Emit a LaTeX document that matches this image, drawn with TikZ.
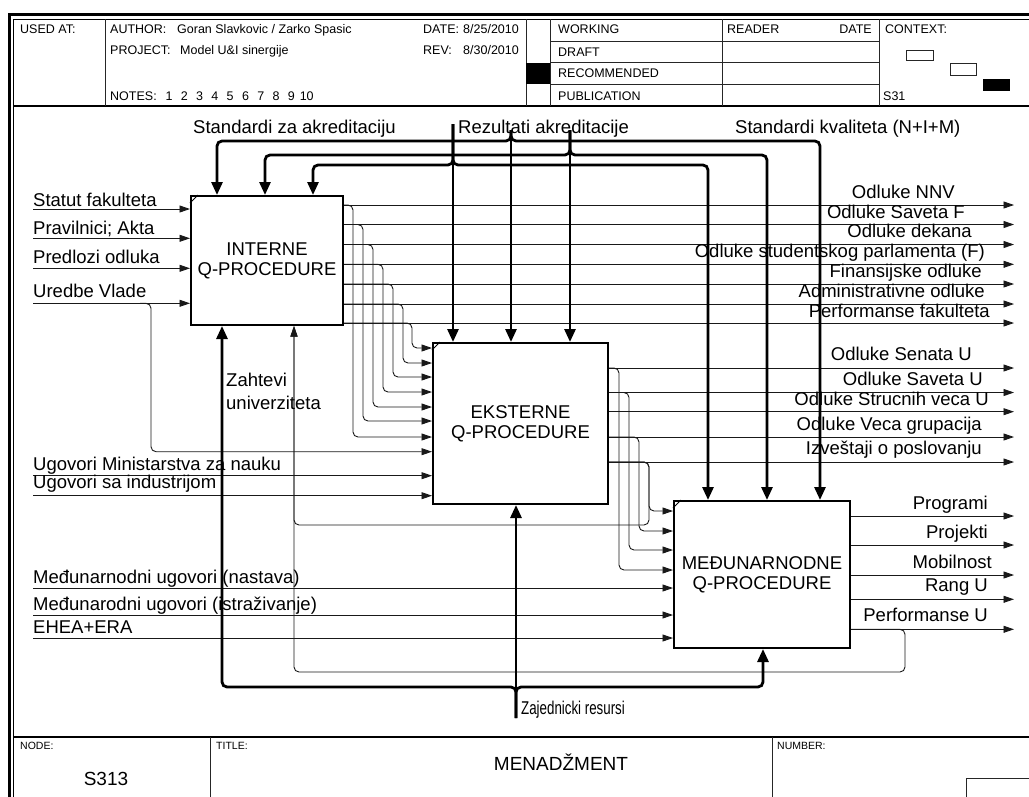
\documentclass[tikz,border=0pt]{standalone}
\usepackage{fontspec}
\setmainfont{Liberation Sans}
\usetikzlibrary{arrows.meta,calc}
\begin{document}
\begin{tikzpicture}[x=1pt,y=-1pt,
  conn/.style={line width=0.9pt,draw=black!90},
  ta/.style={-{Triangle[length=10.5pt,width=7pt]}},
  thk/.style={line width=2.8pt,draw=black},
  ka/.style={-{Triangle[length=13pt,width=11pt]}},
  rc/.style={rounded corners=5pt},
  box/.style={draw,line width=2pt,fill=white,align=center,font=\fontsize{18.5}{20}\selectfont,inner sep=0pt},
  lbl/.style={font=\fontsize{18.5}{21}\selectfont,inner sep=0pt},
  lw/.style={lbl,anchor=base west},
  le/.style={lbl,anchor=base east},
  hdr/.style={font=\fontsize{12.5}{14}\selectfont,inner sep=0pt,anchor=base west},
  frm/.style={line width=1pt,draw=black!85},
  corner/.style={line width=1pt}
]
\useasboundingbox (0,0) rectangle (1029,796);
\fill[white] (0,0) rectangle (1029,796);

% ---------------- frame ----------------
\draw[line width=3pt] (9.5,810) -- (9.5,14) -- (1040,14);
\draw[line width=1pt] (13.5,810) -- (13.5,19) -- (1040,19);
\draw[line width=1.5pt] (13.5,106) -- (1040,106);
\draw[frm] (105.5,19) -- (105.5,106);
\draw[frm] (526,19) -- (526,106);
\draw[frm] (550,19) -- (550,106);
\draw[frm] (722,19) -- (722,106);
\draw[frm] (879,19) -- (879,106);
\foreach \yy in {41.7,62.7,84} \draw[frm] (550,\yy) -- (879,\yy);
\fill (526,62.7) rectangle (550,84);
\draw[frm] (906,50) rectangle (933,60);
\draw[frm] (950,63) rectangle (976,75);
\fill (983,79) rectangle (1010,91);

\node[hdr] (usedat) at (20,33) {USED AT:};
\node[hdr] (author) at (110,33) {AUTHOR:};
\node[hdr] (authorv) at (177,33) {Goran Slavkovic / Zarko Spasic};
\node[hdr] (project) at (110,54.5) {PROJECT:};
\node[hdr] (projectv) at (180,54.5) {Model U\&I sinergije};
\node[hdr] (notes) at (110,100) {NOTES:};
\foreach \i in {1,...,10} \node[hdr,anchor=base] (n\i) at ({169+(\i-1)*15.3},100) {\i};
\node[hdr] (date) at (423,33) {DATE:};
\node[hdr] (datev) at (463,33) {8/25/2010};
\node[hdr] (rev) at (423,54.5) {REV:};
\node[hdr] (revv) at (463,54.5) {8/30/2010};
\node[hdr] (working) at (558,33) {WORKING};
\node[hdr] (draft) at (558,56) {DRAFT};
\node[hdr] (recom) at (558,77) {RECOMMENDED};
\node[hdr] (publ) at (558,100) {PUBLICATION};
\node[hdr] (reader) at (727,33) {READER};
\node[hdr,anchor=base east] (rdate) at (872,33) {DATE};
\node[hdr] (context) at (885,33) {CONTEXT:};
\node[hdr] (s31) at (883,100) {S31};

% bottom title block
\draw[line width=1.5pt] (13.5,737) -- (1040,737);
\draw[frm] (210,737) -- (210,810);
\draw[frm] (772,737) -- (772,810);
\draw[frm] (966,778) rectangle (1040,810);
\node[hdr,font=\fontsize{10.5}{12}\selectfont] (nodel) at (20,749) {NODE:};
\node[hdr,font=\fontsize{10.5}{12}\selectfont] (titlel) at (216,749) {TITLE:};
\node[hdr,font=\fontsize{10.5}{12}\selectfont] (numl) at (777,749) {NUMBER:};
\node[lbl,anchor=base,font=\fontsize{19}{21}\selectfont] (s313) at (106,785) {S313};
\node[lbl,anchor=base,font=\fontsize{19}{21}\selectfont] (title) at (561,770) {MENADŽMENT};

% ---------------- boxes ----------------
\node[box,minimum width=152pt,minimum height=129pt] (b1) at (267,260.5) {INTERNE\\Q-PROCEDURE};
\node[box,minimum width=175pt,minimum height=161pt] (b2) at (520.5,423.5) {EKSTERNE\\Q-PROCEDURE};
\node[box,minimum width=176pt,minimum height=147pt] (b3) at (762,574.5) {MEĐUNARNODNE\\Q-PROCEDURE};
\foreach \b in {b1,b2,b3}
  \draw[corner] ($(\b.north west)+(0,8)$) -- ($(\b.north west)+(8,0)$);

% ---------------- inputs to box 1 ----------------
\foreach \yy/\nm in {209/i1,238.3/i2,268.3/i3,303.3/i4} {
  \coordinate (\nm) at (33,\yy);
  \draw[conn,ta] (\nm) -- (\nm -| b1.west);
}
\node[lw] at (33,206.5) {Statut fakulteta};
\node[lw] at (33,234) {Pravilnici; Akta};
\node[lw] at (33,263) {Predlozi odluka};
\node[lw] at (33,297) {Uredbe Vlade};
% Uredbe Vlade branch to box 2
\draw[conn,ta,rc] (140,303.3) -- (151,303.3) -- (151,451.7) -- (b2.west |- 0,451.7);

% ---------------- outputs of box 1 ----------------
\foreach \yy/\xx/\yi in {205/353/437,224.5/363/421,244.5/373/407,264.3/383/392,284/393/377,304/403/363,323/412/348} {
  \draw[conn,ta] (b1.east |- 0,\yy) -- (1014,\yy);
  \draw[conn,ta,rc] (b1.east |- 0,\yy) -- (\xx,\yy) -- (\xx,\yi) -- (b2.west |- 0,\yi);
}
\node[le] at (955,198.5) {Odluke NNV};
\node[le] at (965,218.5) {Odluke Saveta F};
\node[le] at (972,237) {Odluke dekana};
\node[le] at (985,257.5) {Odluke studentskog parlamenta (F)};
\node[le] at (982,277.5) {Finansijske odluke};
\node[le] at (985,297.5) {Administrativne odluke};
\node[le] at (990,317) {Performanse fakulteta};

% ---------------- other inputs to box 2 ----------------
\foreach \yy/\nm in {475.7/u1,495.7/u2} {
  \coordinate (\nm) at (33,\yy);
  \draw[conn,ta] (\nm) -- (\nm -| b2.west);
}
\node[lw] at (33,470.7) {Ugovori Ministarstva za nauku};
\node[lw] at (33,488.5) {Ugovori sa industrijom};

% ---------------- outputs of box 2 ----------------
\foreach \yy in {368,392.5,411.7,437,462} \draw[conn,ta] (b2.east |- 0,\yy) -- (1014,\yy);
\foreach \yy/\xx/\yi in {368/619/570,392.5/629/550,437/639/531,462/649/511}
  \draw[conn,ta,rc] (b2.east |- 0,\yy) -- (\xx,\yy) -- (\xx,\yi) -- (b3.west |- 0,\yi);
\node[le] at (972,360) {Odluke Senata U};
\node[le] at (983,385.5) {Odluke Saveta U};
\node[le] at (989,405) {Odluke Strucnih veca U};
\node[le] at (982,430) {Odluke Veca grupacija};
\node[le] at (982,454) {Izveštaji o poslovanju};

% ---------------- other inputs to box 3 ----------------
\foreach \yy/\nm in {588/m1,615/m2,638/m3} {
  \coordinate (\nm) at (33,\yy);
  \draw[conn,ta] (\nm) -- (\nm -| b3.west);
}
\node[lw] at (33,583) {Međunarnodni ugovori (nastava)};
\node[lw] at (33,610) {Međunarodni ugovori (istraživanje)};
\node[lw] at (33,633) {EHEA+ERA};

% ---------------- outputs of box 3 ----------------
\foreach \yy in {516,545,575,599.3,629.3} \draw[conn,ta] (b3.east |- 0,\yy) -- (1014,\yy);
\node[le] at (988,509) {Programi};
\node[le] at (988,538) {Projekti};
\node[le] at (992,568.5) {Mobilnost};
\node[le] at (988,591.5) {Rang U};
\node[le] at (988,621.5) {Performanse U};

% ---------------- feedback to box 1 ----------------
\draw[conn,ta,rc] (b3.east |- 0,629.3) -- (905,629.3) -- (905,672) -- (294,672) -- (b1.south -| 294,0);
\draw[conn,ta,rc] (b2.east |- 0,462) -- (649,462) -- (649,525) -- (294,525) -- (b1.south -| 294,0);
\node[lw] at (226,386.5) {Zahtevi};
\node[lw] at (226,409.5) {univerziteta};

% ---------------- controls ----------------
\coordinate (srcA) at (511,130);
\coordinate (srcB) at (570,130);
\coordinate (srcC) at (453,124);
\draw[thk,ka] (srcA) -- (srcA |- b2.north);
\draw[thk,ka] (srcB) -- (srcB |- b2.north);
\draw[thk,ka] (srcC) -- (srcC |- b2.north);
\draw[thk,ka,rc] (srcA) -- (511,141) -- (217,141) -- (b1.north -| 217,0);
\draw[thk,ka,rc] (srcA) -- (511,141) -- (820,141) -- (b3.north -| 820,0);
\draw[thk,ka,rc] (srcB) -- (570,155) -- (265,155) -- (b1.north -| 265,0);
\draw[thk,ka,rc] (srcB) -- (570,155) -- (767,155) -- (b3.north -| 767,0);
\draw[thk,ka,rc] (srcC) -- (453,165) -- (313,165) -- (b1.north -| 313,0);
\draw[thk,ka,rc] (srcC) -- (453,165) -- (708,165) -- (b3.north -| 708,0);
\node[lw] at (193,133) {Standardi za akreditaciju};
\node[lw] at (458,133) {Rezultati akreditacije};
\node[lw] at (735,133.5) {Standardi kvaliteta (N+I+M)};

% ---------------- mechanisms ----------------
\coordinate (srcM) at (516,718);
\draw[thk,ka] (srcM) -- (srcM |- b2.south);
\draw[thk,ka,rc] (srcM) -- (516,687) -- (222,687) -- (b1.south -| 222,0);
\draw[thk,ka,rc] (srcM) -- (516,687) -- (763,687) -- (b3.south -| 763,0);
\node[lw] at (521,714) {\scalebox{0.72}[1]{Zajednicki resursi}};
\end{tikzpicture}
\end{document}
